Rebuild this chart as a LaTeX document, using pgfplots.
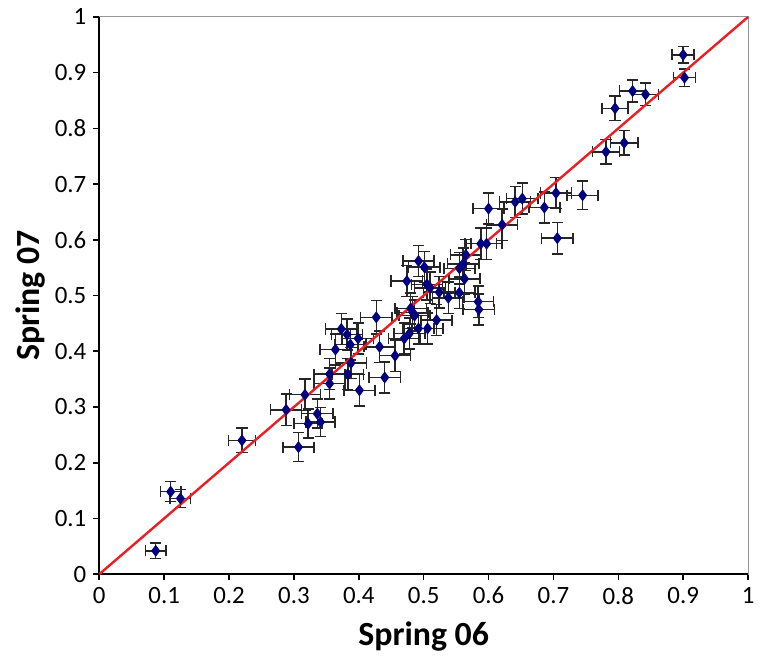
\documentclass[border=0pt]{standalone}
\usepackage{pgfplots}
\pgfplotsset{compat=1.18}
\usepackage{pgfplotstable}
\usepackage{fontspec}
\setmainfont{Carlito}
\definecolor{navy}{RGB}{0,0,128}
\definecolor{boxgray}{RGB}{150,150,150}
\definecolor{fitred}{RGB}{235,30,35}

% x  y  ex  ey  (Spring 06 vs Spring 07)
\pgfplotstableread{
x      y      ex     ey
0.087  0.042  0.016  0.014
0.110  0.148  0.016  0.018
0.125  0.136  0.016  0.016
0.220  0.240  0.021  0.022
0.288  0.295  0.024  0.028
0.307  0.228  0.024  0.026
0.317  0.322  0.024  0.028
0.322  0.270  0.022  0.026
0.336  0.288  0.024  0.026
0.341  0.273  0.022  0.026
0.355  0.359  0.024  0.028
0.355  0.342  0.024  0.028
0.364  0.403  0.024  0.028
0.373  0.440  0.024  0.028
0.382  0.430  0.024  0.028
0.387  0.412  0.024  0.028
0.383  0.359  0.024  0.028
0.388  0.379  0.024  0.028
0.399  0.423  0.024  0.028
0.401  0.330  0.024  0.028
0.427  0.461  0.024  0.030
0.432  0.408  0.024  0.028
0.440  0.353  0.024  0.028
0.456  0.392  0.024  0.028
0.470  0.423  0.024  0.028
0.478  0.432  0.024  0.028
0.474  0.526  0.024  0.028
0.480  0.477  0.024  0.028
0.483  0.470  0.024  0.028
0.486  0.464  0.024  0.028
0.492  0.562  0.024  0.028
0.492  0.441  0.024  0.028
0.501  0.551  0.024  0.028
0.506  0.441  0.024  0.028
0.505  0.520  0.024  0.028
0.510  0.514  0.024  0.028
0.520  0.456  0.024  0.028
0.524  0.506  0.024  0.028
0.538  0.496  0.024  0.028
0.555  0.549  0.024  0.028
0.555  0.505  0.024  0.028
0.561  0.557  0.024  0.028
0.563  0.530  0.024  0.028
0.565  0.573  0.024  0.028
0.584  0.489  0.024  0.028
0.585  0.475  0.024  0.028
0.588  0.593  0.024  0.028
0.597  0.593  0.024  0.028
0.600  0.656  0.024  0.028
0.621  0.627  0.024  0.028
0.641  0.668  0.024  0.028
0.652  0.674  0.024  0.028
0.686  0.658  0.024  0.028
0.704  0.684  0.024  0.028
0.706  0.603  0.024  0.028
0.745  0.680  0.024  0.026
0.781  0.758  0.021  0.022
0.809  0.774  0.021  0.022
0.795  0.836  0.020  0.022
0.822  0.867  0.020  0.020
0.842  0.861  0.020  0.020
0.900  0.932  0.017  0.015
0.902  0.891  0.017  0.016
}\springdata

\begin{document}
\begin{tikzpicture}
\begin{axis}[
    scale only axis,
    width=326pt, height=280pt,
    xmin=0, xmax=1, ymin=0, ymax=1,
    xtick={0,0.1,...,1.0}, ytick={0,0.1,...,1.0},
    tick pos=left, tick align=outside,
    major tick length=3pt,
    tick style={black, line width=0.8pt},
    axis line style={boxgray, line width=0.5pt},
    ticklabel style={font=\fontsize{12.5}{14}\selectfont},
    /pgf/number format/assume math mode=true,
    xlabel={\textbf{Spring 06}},
    ylabel={\textbf{Spring 07}},
    label style={font=\fontsize{17}{20}\selectfont},
    xlabel style={yshift=-2pt},
    ylabel style={yshift=-2pt},
    clip=false,
]
    % invisible frame fixing the picture's proportions
    \path (rel axis cs:-0.153,-0.1375) (rel axis cs:1.0138,1.0304);
    % heavy left and bottom axis lines
    \draw[black, line width=1.2pt] (rel axis cs:0,1) -- (rel axis cs:0,0) -- (rel axis cs:1,0);

    \addplot[only marks, mark=diamond*, mark size=2.7pt,
        mark options={fill=navy, draw=navy},
        error bars/.cd,
        x dir=both, x explicit, y dir=both, y explicit,
        error bar style={black!85, line width=0.75pt},
        error mark options={rotate=90, black!85, mark size=2.8pt, line width=0.75pt}]
        table[x=x, y=y, x error=ex, y error=ey] {\springdata};

    % y = x reference line
    \addplot[fitred, line width=1.2pt] coordinates {(0,0) (1,1)};
\end{axis}
\end{tikzpicture}
\end{document}
